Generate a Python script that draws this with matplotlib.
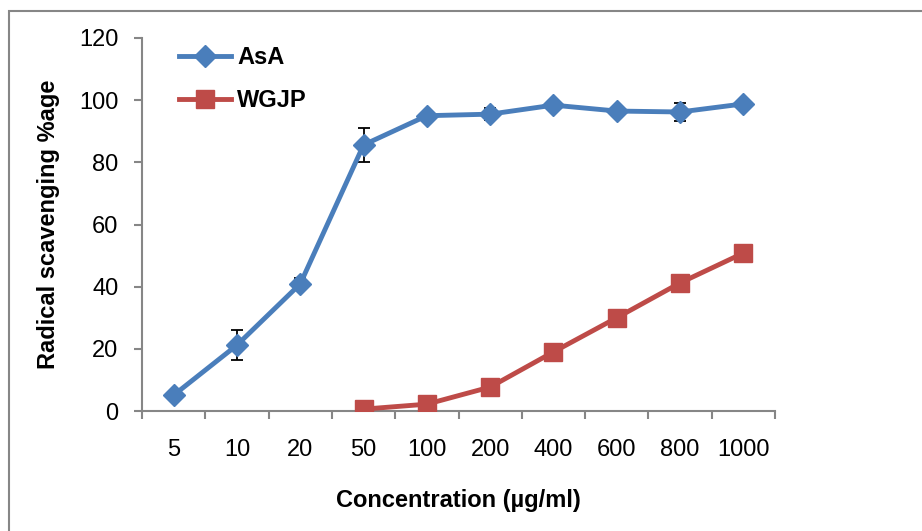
import matplotlib
matplotlib.use("Agg")
import matplotlib.pyplot as plt
from matplotlib.patches import Rectangle

CONC_LABELS = ["5", "10", "20", "50", "100", "200", "400", "600", "800", "1000"]
ASA_VALUES = [5.1, 21.2, 40.9, 85.6, 95.0, 95.5, 98.4, 96.5, 96.2, 98.8]
ASA_ERR = [0.8, 4.8, 2.0, 5.5, 1.0, 2.0, 0.8, 0.8, 3.0, 0.8]
WGJP_LABELS = ["50", "100", "200", "400", "600", "800", "1000"]
WGJP_VALUES = [0.6, 2.2, 7.7, 19.0, 30.0, 41.2, 50.8]

BLUE = "#4A7EBB"
RED = "#BE4B48"
GREY = "#868686"
FS = 17

plt.rcParams["font.family"] = ["Liberation Sans", "DejaVu Sans"]

fig = plt.figure(figsize=(9.22, 5.31), dpi=100)
# chart-area border (cropped at right and bottom like the source)
fig.patches.append(Rectangle((9 / 922, -0.1), 1.2, 1 - 11 / 531 + 0.1,
                             transform=fig.transFigure, fill=False,
                             edgecolor=GREY, linewidth=1.5))

ax = fig.add_axes([142 / 922, 120 / 531, (775 - 142) / 922, (411 - 38) / 531])

x_asa = list(range(len(CONC_LABELS)))
x_wgjp = [CONC_LABELS.index(c) for c in WGJP_LABELS]

ax.errorbar(x_asa, ASA_VALUES, yerr=ASA_ERR, fmt="none", ecolor="black",
            elinewidth=1.3, capsize=4, capthick=1.3, zorder=2)
ax.plot(x_asa, ASA_VALUES, color=BLUE, linewidth=3.5, marker="D", markersize=11,
        label="AsA", zorder=3)
ax.plot(x_wgjp, WGJP_VALUES, color=RED, linewidth=3.5, marker="s", markersize=13,
        label="WGJP", zorder=3)

ax.set_xlim(-0.5, len(CONC_LABELS) - 0.5)
ax.set_ylim(0, 120)
ax.set_yticks(range(0, 121, 20))

# tick marks at category boundaries, labels at centres
ax.set_xticks([i - 0.5 for i in range(len(CONC_LABELS) + 1)])
ax.set_xticklabels([])
ax.set_xticks(x_asa, minor=True)
ax.set_xticklabels(CONC_LABELS, minor=True)
ax.tick_params(axis="x", which="minor", length=0, pad=20, labelsize=FS)
ax.tick_params(axis="x", which="major", length=6, width=1.5, color=GREY, direction="out")
ax.tick_params(axis="y", length=6, width=1.5, color=GREY, direction="out", labelsize=FS, pad=11)

for side in ("top", "right"):
    ax.spines[side].set_visible(False)
for side in ("left", "bottom"):
    ax.spines[side].set_color(GREY)
    ax.spines[side].set_linewidth(1.5)

ax.set_xlabel("Concentration (µg/ml)", fontsize=FS, fontweight="bold", labelpad=20)
ax.set_ylabel("Radical scavenging %age", fontsize=FS, fontweight="bold", labelpad=14)

leg = ax.legend(loc="upper left", frameon=False, fontsize=FS, handlelength=2.2,
                handletextpad=0.25, labelspacing=0.85, bbox_to_anchor=(0.025, 1.035))
for t in leg.get_texts():
    t.set_fontweight("bold")

fig.savefig("out.png", dpi=100)
